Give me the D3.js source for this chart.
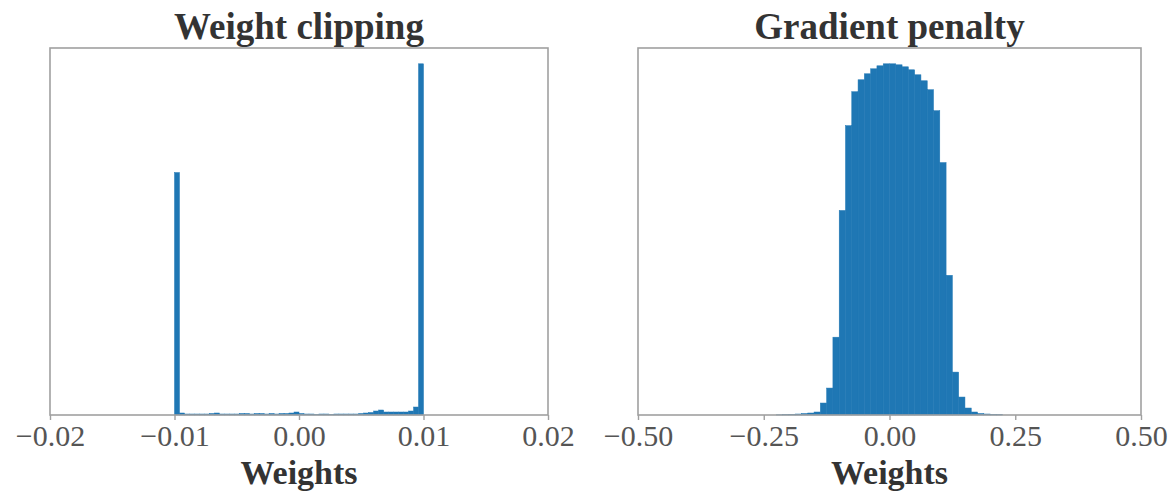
<!DOCTYPE html>
<html>
<head>
<meta charset="utf-8">
<script src="https://cdn.jsdelivr.net/npm/d3@7"></script>
<style>
  body { margin: 0; background: #fff; }
  svg { display: block; }
  .frame { fill: none; stroke: #a0a0a0; stroke-width: 1.6; }
  .tick line { stroke: #a0a0a0; stroke-width: 1.4; }
  .tick text { font-family: "Liberation Serif", serif; font-size: 30px; fill: #555; }
  .title, .xlabel { font-family: "Liberation Serif", serif; font-weight: bold; fill: #333; }
  .bar { fill: #1f77b4; stroke: #1f77b4; stroke-width: 0.5; }
</style>
</head>
<body>
<div id="chart"></div>
<script>
// ---- data ----
// weight clipping: 50 bins between -0.01 and 0.01 (relative counts)
var clipRange = [-0.01, 0.01];
var clipCounts = [243, 2, 1, 1, 1, 1, 1, 1.5, 2, 1,
                  1, 1, 1, 1.5, 1.5, 1, 1.5, 1.5, 1, 1.5,
                  1, 1.5, 1.5, 2, 3, 1.5, 1, 1, 0.5, 1,
                  1, 0.5, 1, 1, 1, 1, 1, 1.5, 2, 2.5,
                  4, 5, 3, 3, 3, 3, 3, 4, 8, 352];
var clipTicks = [-0.02, -0.01, 0.00, 0.01, 0.02];

// gradient penalty: 40 bins between -0.25 and 0.25 (relative counts)
var gpRange = [-0.25, 0.25];
var gpCounts = [0, 0, 0.2, 0.4, 0.7, 1, 1.5, 2, 3, 12,
                27, 78, 205, 290, 324, 336, 342, 347, 350, 352,
                352, 351, 349, 346, 341, 335, 326, 305, 253, 140,
                43, 18, 7, 3, 1.5, 1, 0.5, 0.3, 0, 0];
var gpTicks = [-0.50, -0.25, 0.00, 0.25, 0.50];

var titles = ["Weight clipping", "Gradient penalty"];
var xLabel = "Weights";

var width = 1173, height = 491;
var svg = d3.select("#chart").append("svg")
    .attr("width", width)
    .attr("height", height);

/**
 * One histogram panel
 */
function HistogramChart(opts){
    var self = this;
    self.opts = opts;
    self.init();
}

HistogramChart.prototype.init = function(){
    var self = this;
    var o = self.opts;
    self.top = 48;
    self.bottom = 415;
    self.g = svg.append("g");

    self.x = d3.scaleLinear()
        .domain([o.ticks[0], o.ticks[o.ticks.length - 1]])
        .range([o.left, o.right]);
    self.y = d3.scaleLinear()
        .domain([0, d3.max(o.counts) * 1.045])
        .range([self.bottom, self.top]);
};

HistogramChart.prototype.update = function(){
    var self = this;
    var o = self.opts;
    var n = o.counts.length;
    var step = (o.range[1] - o.range[0]) / n;

    var bins = o.counts.map(function(c, i){
        return {x0: o.range[0] + i * step, x1: o.range[0] + (i + 1) * step, c: c};
    });

    self.g.selectAll("rect.bar")
        .data(bins.filter(function(d){ return d.c > 0; }))
        .enter().append("rect")
        .attr("class", "bar")
        .attr("x", function(d){ return self.x(d.x0); })
        .attr("width", function(d){ return self.x(d.x1) - self.x(d.x0); })
        .attr("y", function(d){ return self.y(d.c); })
        .attr("height", function(d){ return self.bottom - self.y(d.c); });

    // frame (all four spines)
    self.g.append("rect")
        .attr("class", "frame")
        .attr("x", o.left)
        .attr("y", self.top)
        .attr("width", o.right - o.left)
        .attr("height", self.bottom - self.top);

    var axis = d3.axisBottom(self.x)
        .tickValues(o.ticks)
        .tickSize(5)
        .tickPadding(6)
        .tickFormat(function(d){ return d3.format(".2f")(d).replace("-", "\u2212"); });

    var ax = self.g.append("g")
        .attr("transform", "translate(0," + self.bottom + ")")
        .call(axis);
    ax.select(".domain").remove();
    ax.selectAll(".tick text").attr("dy", null).attr("y", 31);

    self.g.append("text")
        .attr("class", "title")
        .attr("x", (o.left + o.right) / 2)
        .attr("y", 39)
        .attr("text-anchor", "middle")
        .style("font-size", "37px")
        .text(o.title);

    self.g.append("text")
        .attr("class", "xlabel")
        .attr("x", (o.left + o.right) / 2)
        .attr("y", 484)
        .attr("text-anchor", "middle")
        .style("font-size", "34px")
        .text(xLabel);
};

var left = new HistogramChart({left: 50, right: 548, counts: clipCounts, range: clipRange,
                               ticks: clipTicks, title: titles[0]});
left.update();
var right = new HistogramChart({left: 638, right: 1141, counts: gpCounts, range: gpRange,
                                ticks: gpTicks, title: titles[1]});
right.update();
</script>
</body>
</html>
